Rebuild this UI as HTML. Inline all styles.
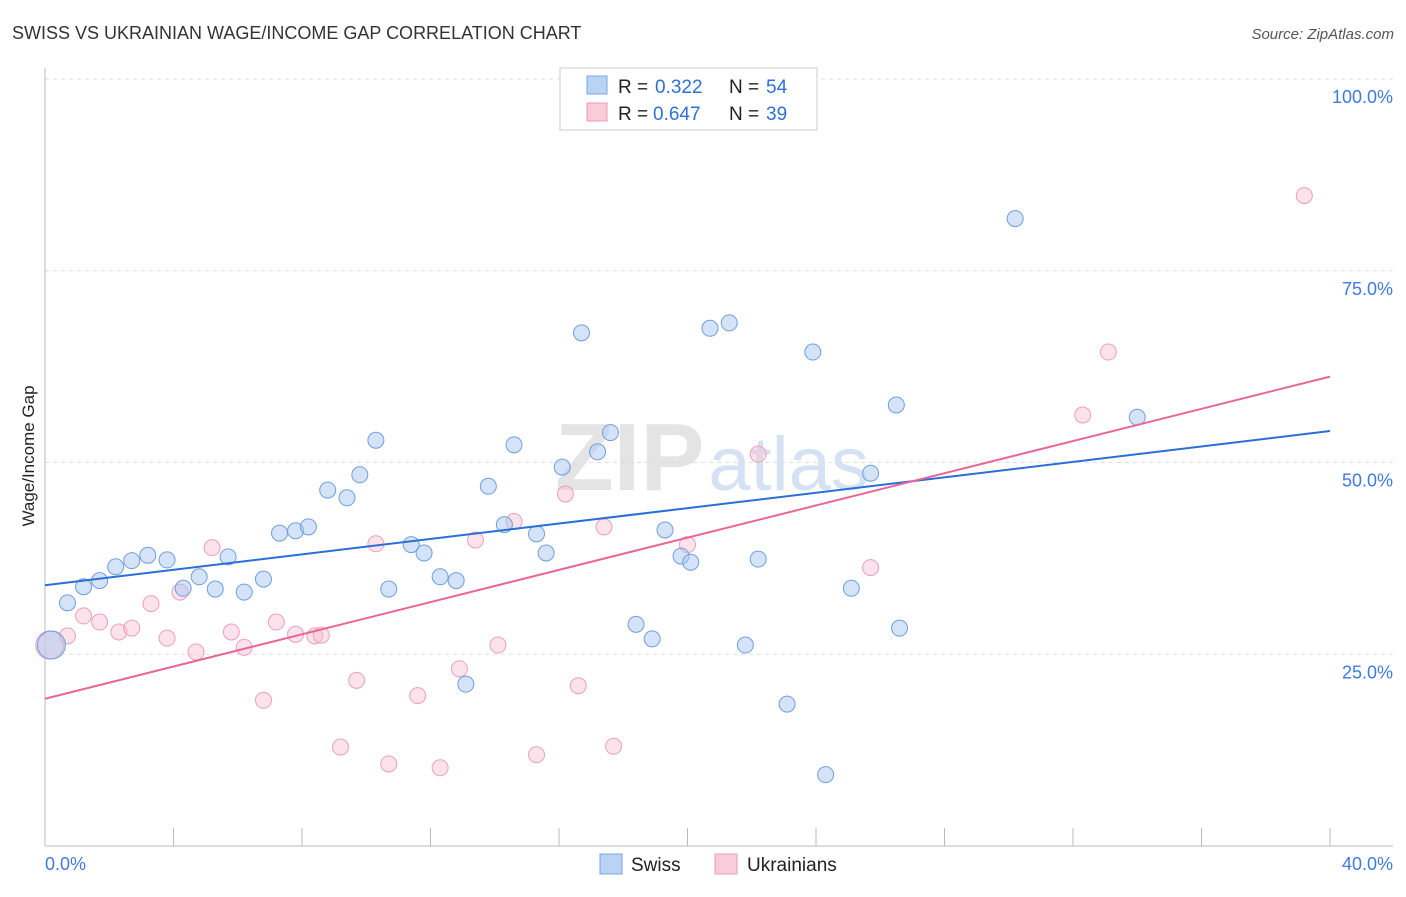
<!DOCTYPE html>
<html><head><meta charset="utf-8">
<style>
body{margin:0;background:#fff;font-family:"Liberation Sans",sans-serif;}
svg text{font-family:"Liberation Sans",sans-serif;}
</style></head>
<body>
<svg id="chart" width="1406" height="892">
<text x="12" y="39" font-size="18" fill="#333">SWISS VS UKRAINIAN WAGE/INCOME GAP CORRELATION CHART</text>
<text x="1394" y="39" font-size="15" fill="#555" text-anchor="end" font-style="italic">Source: ZipAtlas.com</text>
<text x="555" y="490" font-size="96" fill="#e4e4e4" font-family="Liberation Serif" font-weight="bold">ZIP<tspan fill="#d5e2f3" font-family="Liberation Sans" font-weight="normal" font-size="76" dx="4">atlas</tspan></text>
<text x="34" y="456" font-size="17" fill="#222" text-anchor="middle" transform="rotate(-90 34 456)">Wage/Income Gap</text>
<g id="grid"></g>
<g id="axes"></g>
<g id="marks"></g>
<g>
<rect x="560" y="68" width="257" height="62" fill="#fff" stroke="#ccc"/>
<rect x="587" y="76" width="20" height="18" fill="#b9d3f5" stroke="#7aa6e0"/>
<g font-size="19">
<text x="618" y="93" fill="#222">R =</text><text x="655" y="93" fill="#2f6fd8">0.322</text>
<text x="729" y="93" fill="#222">N =</text><text x="766" y="93" fill="#2f6fd8">54</text></g>
<rect x="587" y="103" width="20" height="18" fill="#f9ccda" stroke="#e99ab4"/>
<g font-size="19">
<text x="618" y="120" fill="#222">R =</text><text x="653" y="120" fill="#2f6fd8">0.647</text>
<text x="729" y="120" fill="#222">N =</text><text x="766" y="120" fill="#2f6fd8">39</text></g>
</g>
<g>
<rect x="600" y="854" width="22" height="20" fill="#b9d3f5" stroke="#7aa6e0"/>
<text x="631" y="871" font-size="19" fill="#222">Swiss</text>
<rect x="715" y="854" width="22" height="20" fill="#f9ccda" stroke="#e99ab4"/>
<text x="747" y="871" font-size="19" fill="#222">Ukrainians</text>
</g>
</svg>
<script>
const yTicks=[25,50,75,100];
const yTickLabels=["25.0%","50.0%","75.0%","100.0%"];
const xTickLabels=["0.0%","40.0%"];
const swissX=[0.2,0.7,1.2,1.7,2.2,2.7,3.2,3.8,4.3,4.8,5.3,5.7,6.2,6.8,7.3,7.8,8.2,8.8,9.4,9.8,10.3,10.7,11.4,11.8,12.3,12.8,13.1,13.8,14.3,14.6,15.3,15.6,16.1,16.7,17.2,17.6,18.4,18.9,19.3,19.8,20.1,20.7,21.3,21.8,22.2,23.1,23.9,24.3,25.1,25.7,26.5,26.6,30.2,34.0];
const swissY=[26.2,31.7,33.8,34.6,36.4,37.2,37.9,37.3,33.6,35.1,33.5,37.7,33.1,34.8,40.8,41.1,41.6,46.4,45.4,48.4,52.9,33.5,39.3,38.2,35.1,34.6,21.1,46.9,41.9,52.3,40.7,38.2,49.4,66.9,51.4,53.9,28.9,27.0,41.2,37.8,37.0,67.5,68.2,26.2,37.4,18.5,64.4,9.3,33.6,48.6,57.5,28.4,81.8,55.9];
const ukrX=[0.15,0.7,1.2,1.7,2.3,2.7,3.3,3.8,4.2,4.7,5.2,5.8,6.2,6.8,7.2,7.8,8.4,8.6,9.2,9.7,10.3,10.7,11.6,12.3,12.9,13.4,14.1,14.6,15.3,16.2,16.6,17.4,17.7,20.0,22.2,25.7,32.3,33.1,39.2];
const ukrY=[26.2,27.4,30.0,29.2,27.9,28.4,31.6,27.1,33.1,25.3,38.9,27.9,25.9,19.0,29.2,27.6,27.4,27.5,12.9,21.6,39.4,10.7,19.6,10.2,23.1,39.9,26.2,42.3,11.9,45.9,20.9,41.6,13.0,39.3,51.1,36.3,56.2,64.4,84.8];
const swissLine=[34.0,54.1];
const ukrLine=[19.2,61.2];
const NS="http://www.w3.org/2000/svg";
const X0=45,X1=1330,Y0=846,YTOP=79;
function sx(v){return X0+(X1-X0)*v/40;}
function sy(v){return Y0-(Y0-YTOP)*v/100;}
function mk(tag,attrs,parent){const e=document.createElementNS(NS,tag);for(const k in attrs)e.setAttribute(k,attrs[k]);parent.appendChild(e);return e;}
const grid=document.getElementById('grid'),axes=document.getElementById('axes'),marks=document.getElementById('marks');
yTicks.forEach((t,i)=>{
 const l=mk('line',{x1:X0,x2:1393,y1:sy(t),y2:sy(t),stroke:'#ddd','stroke-dasharray':'4,4'},grid);
 
 
 const tx=mk('text',{x:1393,y:sy(t)+24,'font-size':18,fill:'#3f7ae0','text-anchor':'end'},axes);
 tx.textContent=yTickLabels[i];
 
 
});
const ax=mk('line',{x1:X0,x2:1393,y1:Y0,y2:Y0,stroke:'#bbb'},axes);


const ay=mk('line',{x1:X0,x2:X0,y1:68,y2:Y0,stroke:'#bbb'},axes);


for(let i=1;i<=10;i++){
 const t=mk('line',{x1:sx(i*4),x2:sx(i*4),y1:Y0-18,y2:Y0,stroke:'#bbb'},axes);
 
 
}
[[0,'start',45],[40,'end',1393]].forEach((d,i)=>{
 const t=mk('text',{x:d[2],y:870,'font-size':18,fill:'#3f7ae0','text-anchor':d[1]},axes);
 t.textContent=xTickLabels[i];
 
 
});
function pts(xs,ys,fill,stroke,name){
 xs.forEach((x,i)=>{
  const r=(i===0)?14:8;
  const c=mk('circle',{cx:sx(x),cy:sy(ys[i]),r:r,fill:fill,stroke:stroke,'stroke-width':1},marks);
  
  
 });
}
pts(ukrX,ukrY,'rgba(248,190,208,0.45)','#eba0ba','ukrainians-point');
pts(swissX,swissY,'rgba(170,200,242,0.5)','#6e9fe0','swiss-point');
const lb=mk('line',{x1:sx(0),y1:sy(swissLine[0]),x2:sx(40),y2:sy(swissLine[1]),stroke:'#2a6fd6','stroke-width':2},marks);


const lp=mk('line',{x1:sx(0),y1:sy(ukrLine[0]),x2:sx(40),y2:sy(ukrLine[1]),stroke:'#e8669a','stroke-width':2},marks);


</script>
</body></html>
